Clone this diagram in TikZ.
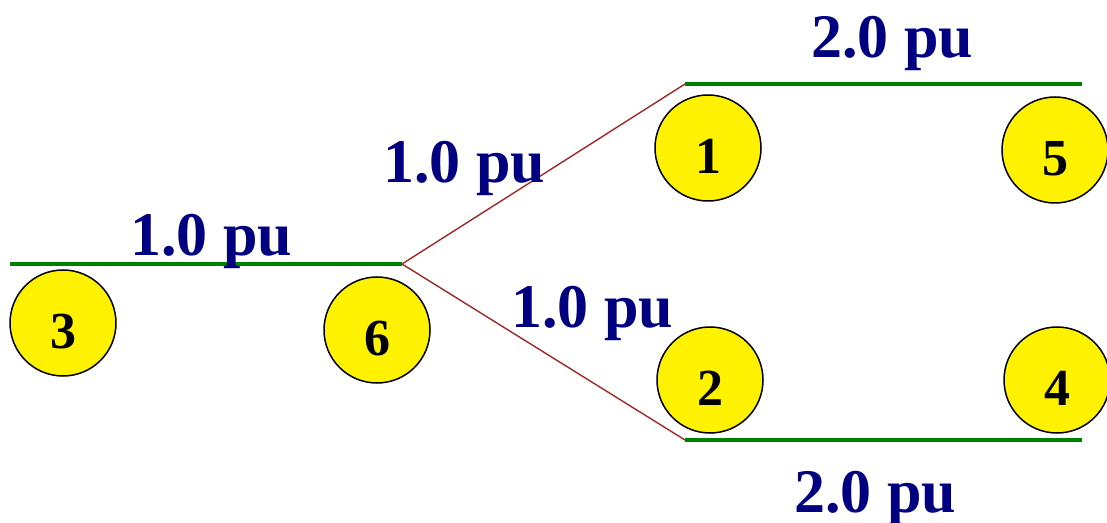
\documentclass[tikz,border=0pt]{standalone}
\usepackage{fontspec}
\setmainfont{Liberation Serif}
\usepackage{xcolor}
\usepackage{tikz}
\usetikzlibrary{positioning}
\definecolor{puBlue}{RGB}{0,0,128}
\definecolor{busGreen}{RGB}{0,128,0}
\definecolor{lineRed}{RGB}{160,40,40}

\begin{document}
\begin{tikzpicture}[x=0.5pt, y=-0.5pt,
    bus/.style={busGreen, line width=2pt},
    branch/.style={lineRed, line width=0.7pt},
    gen/.style={circle, draw=black, line width=0.75pt, fill=yellow, minimum size=53pt, inner sep=0pt, text height=25.5pt, font=\fontsize{26}{26}\bfseries\selectfont},
    pu/.style={anchor=base, text=puBlue, inner sep=0pt, font=\fontsize{31}{31}\bfseries\selectfont}]
    \useasboundingbox (0,0) rectangle (1107,523);

    % bus ends
    \coordinate (l1) at (10,264);
    \coordinate (l2) at (402,264);
    \coordinate (t1) at (685,84);
    \coordinate (t2) at (1082,84);
    \coordinate (d1) at (685,440);
    \coordinate (d2) at (1082,440);

    \node [gen] (g3) at (63,323) {3};
    \node [gen] (g6) at (377,330) {6};
    \node [gen] (g1) at (708,148) {1};
    \node [gen] (g5) at (1055,150) {5};
    \node [gen] (g2) at (710,380) {2};
    \node [gen] (g4) at (1057,380) {4};

    \draw [branch] (l2) -- (t1);
    \draw [branch] (l2) -- (d1);
    \draw [bus] (l1) -- (l2);
    \draw [bus] (t1) -- (t2);
    \draw [bus] (d1) -- (d2);

    \node [pu] (p36) at (211,256) {1.0 pu};
    \node [pu] (p61) at (464,183) {1.0 pu};
    \node [pu] (p62) at (592,328) {1.0 pu};
    \node [pu] (p15) at (892,58) {2.0 pu};
    \node [pu] (p24) at (875,512) {2.0 pu};
\end{tikzpicture}
\end{document}
